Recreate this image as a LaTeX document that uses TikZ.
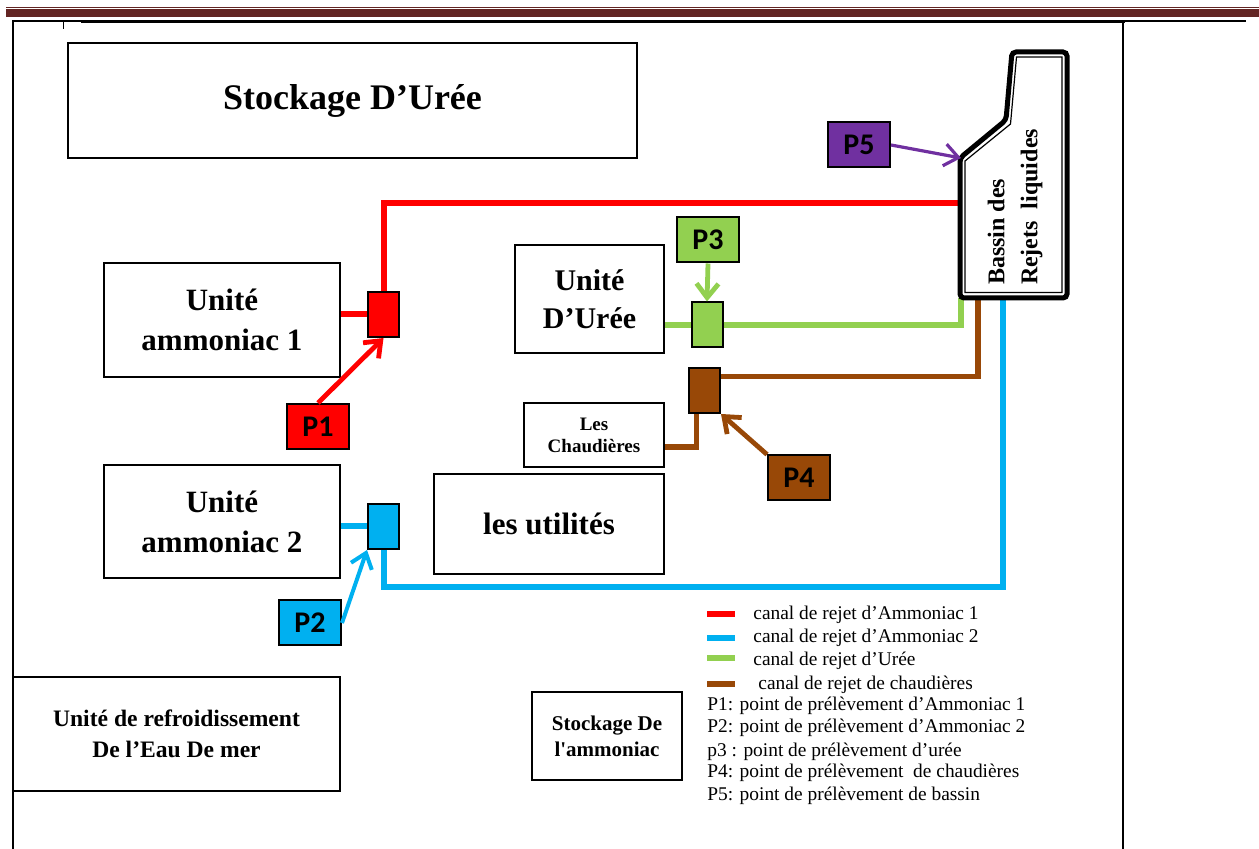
\documentclass[tikz,border=0pt]{standalone}
\usepackage{fontspec}
\setmainfont{Liberation Serif}[Ligatures=TeXOff]
\newfontfamily\calib{Carlito}
\usetikzlibrary{arrows.meta}
\definecolor{cred}{HTML}{FF0000}
\definecolor{cblue}{HTML}{00B0F0}
\definecolor{cgreen}{HTML}{92D050}
\definecolor{cbrown}{HTML}{984807}
\definecolor{cpurple}{HTML}{7030A0}
\definecolor{dkred}{HTML}{632523}
\tikzset{
  blk/.style={draw, rectangle, line width=1.4pt, align=center, inner sep=0pt, font=\bfseries},
  smp/.style={draw, rectangle, line width=1pt, minimum width=15.5pt, minimum height=22.5pt, inner sep=0pt},
  pbox/.style={draw, rectangle, line width=1pt, minimum width=31pt, minimum height=22.5pt, inner sep=0pt, font=\calib\bfseries\fontsize{15}{17}\selectfont},
  canal/.style={line width=3pt},
  arr/.style={-{Straight Barb[length=7pt,width=11pt]}, line width=2.4pt},
  legtxt/.style={anchor=west, inner sep=0pt, font=\fontsize{9.7}{11}\selectfont},
}
\begin{document}
\begin{tikzpicture}[x=0.5pt, y=-0.5pt]
\useasboundingbox (0,0) rectangle (1259,849);

\draw[dkred, line width=0.8pt] (6,7.5) -- (1259,7.5);
\draw[dkred, line width=4pt] (6,13.4) -- (1259,13.4);
\draw[line width=0.8pt] (12,21) -- (1246,21);
\draw[line width=1.6pt] (81,21.5) -- (1125,21.5);
\draw[line width=1pt] (12.5,21) -- (12.5,849);
\draw[line width=0.8pt] (1123,21) -- (1123,849);
\draw[line width=0.5pt] (63,21) -- (63,29);

\node[blk, minimum width=284.5pt, minimum height=57.5pt, font=\bfseries\fontsize{18}{20}\selectfont] (stur) at (352.5,100.5) {Stockage D’Urée};
\node[blk, minimum width=118pt, minimum height=57pt, font=\bfseries\fontsize{15.5}{20}\selectfont] (amm1) at (222,320) {Unité\\ammoniac 1};
\node[blk, minimum width=118pt, minimum height=56.5pt, font=\bfseries\fontsize{15.5}{20}\selectfont] (amm2) at (222,521.5) {Unité\\ammoniac 2};
\node[blk, minimum width=74.5pt, minimum height=54pt, font=\bfseries\fontsize{15}{19}\selectfont] (ur) at (589.5,299) {Unité\\D’Urée};
\node[blk, minimum width=70pt, minimum height=32pt, font=\bfseries\fontsize{9.5}{11}\selectfont] (ch) at (594,435) {Les\\Chaudières};
\node[blk, minimum width=115pt, minimum height=50pt, font=\bfseries\fontsize{15.5}{18}\selectfont] (util) at (549,524) {les utilités};
\node[blk, minimum width=163.5pt, minimum height=57pt, font=\bfseries\fontsize{11.8}{15.5}\selectfont] (refr) at (176.5,734) {Unité de refroidissement\\De l’Eau De mer};
\node[blk, minimum width=75pt, minimum height=44pt, font=\bfseries\fontsize{10.5}{13}\selectfont] (stam) at (607,736) {Stockage De\\l'ammoniac};

\node[smp, fill=cred] (s1) at (383.5,314.5) {};
\node[smp, fill=cblue] (s2) at (383.5,526.5) {};
\node[smp, fill=cgreen] (s3) at (707,325) {};
\node[smp, fill=cbrown] (s4) at (704.5,390.5) {};

\node[pbox, fill=cred] (p1) at (318,426.5) {P1};
\node[pbox, fill=cblue] (p2) at (310,623) {P2};
\node[pbox, fill=cgreen] (p3) at (708,240) {P3};
\node[pbox, fill=cbrown] (p4) at (799,478) {P4};
\node[pbox, fill=cpurple] (p5) at (859,145) {P5};

\coordinate (bred) at (959,203);
\coordinate (bgrn) at (961,298);
\coordinate (bbrn) at (978,298);
\coordinate (bblu) at (1003,298);
\coordinate (bturn) at (1003,587);
\coordinate (bcorner) at (961,158);

\draw[canal, cred] (amm1.east |- s1.west) -- (s1.west);
\draw[canal, cred] (s1.north) |- (bred);
\draw[canal, cblue] (amm2.east |- s2.west) -- (s2.west);
\draw[canal, cblue] (s2.south) |- (bturn) -- (bblu);
\draw[canal, cgreen] (ur.east |- s3.west) -- (s3.west);
\draw[canal, cgreen] (s3.east) -| (bgrn);
\draw[canal, cbrown, line width=2.6pt] ([yshift=-6pt]ch.east) -| ([xshift=-4pt]s4.south);
\draw[canal, cbrown, line width=2.6pt] ([yshift=7pt]s4.east) -| (bbrn);

\draw[line width=2.5pt, rounded corners=2pt] (960,298) -- (960,158) -- (1006,120) -- (1012,52) -- (1067,52) -- (1067,298) -- cycle;
\draw[line width=0.6pt] (965,292.5) -- (965,161) -- (1010.5,124) -- (1016.5,57) -- (1062,57) -- (1062,292.5) -- cycle;
\node[rotate=90, align=left, inner sep=0pt, font=\bfseries\fontsize{12}{16.5}\selectfont] (bastxt) at (1015,207) {Bassin des\\Rejets\ \ liquides};

\draw[arr, cred] (p1.north) -- (s1.south);
\draw[arr, cblue, line width=2pt] (p2.east) -- (s2.south west);
\draw[arr, cgreen] (p3.south) -- (s3.north);
\draw[arr, cbrown] (p4.north west) -- (s4.south east);
\draw[arr, cpurple, line width=1.6pt] (p5.east) -- (bcorner);

\foreach \y/\c in {614/cred, 638/cblue, 658/cgreen, 684/cbrown}
  \draw[\c, line width=3pt] (707,\y) -- (735,\y);
\node[legtxt] (l1) at (753,615) {canal de rejet d’Ammoniac 1};
\node[legtxt] (l2) at (753,638) {canal de rejet d’Ammoniac 2};
\node[legtxt] (l3) at (753,661) {canal de rejet d’Urée};
\node[legtxt] (l4) at (758,685) {canal de rejet de chaudières};
\node[legtxt] (l5) at (707,706) {P1: point de prélèvement d’Ammoniac 1};
\node[legtxt] (l6) at (707,728) {P2: point de prélèvement d’Ammoniac 2};
\node[legtxt] (l7) at (707,752) {p3 : point de prélèvement d’urée};
\node[legtxt] (l8) at (707,773) {P4: point de prélèvement\ \ de chaudières};
\node[legtxt] (l9) at (707,796) {P5: point de prélèvement de bassin};

\end{tikzpicture}
\end{document}
